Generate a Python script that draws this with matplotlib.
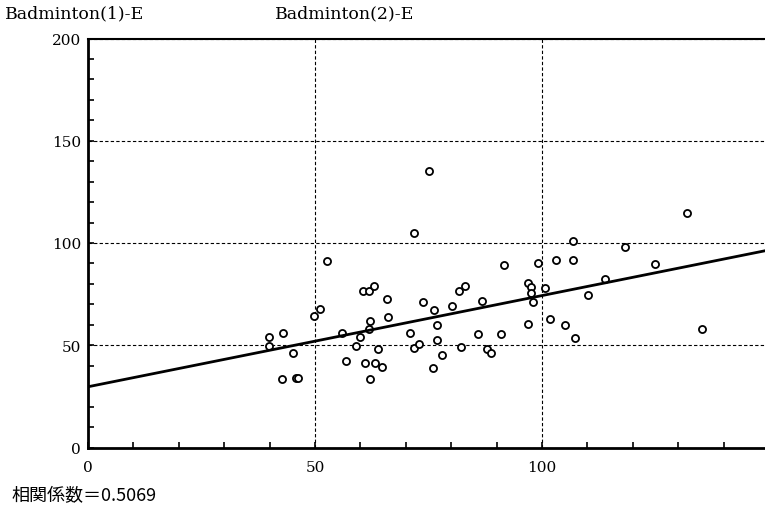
import matplotlib.pyplot as plt
from matplotlib.ticker import MultipleLocator
import numpy as np

# Badminton (2)-E on x, Badminton (1)-E on y
x_vals = [39.9, 39.8, 42.9, 42.7, 45.8, 46.2, 45.2, 49.8, 51.1, 52.7,
          55.9, 56.9, 59.1, 59.9, 60.6, 61.9, 62.9, 62.0, 61.9, 61.1,
          63.1, 62.1, 63.9, 64.8, 65.8, 66.1, 70.9, 71.8, 73.0, 71.8,
          75.1, 73.8, 76.1, 76.9, 76.9, 76.0, 78.0, 80.2, 81.8, 83.0,
          82.1, 85.9, 86.7, 87.8, 88.8, 90.9, 91.7, 96.8, 97.6, 97.6,
          97.9, 97.0, 100.7, 101.8, 105.1, 107.2, 99.1, 103.0, 106.8, 106.8,
          110.1, 113.9, 118.2, 124.9, 132.0, 135.2]
y_vals = [53.9, 49.8, 55.8, 33.4, 34.2, 33.8, 46.1, 64.1, 67.6, 91.3,
          56.2, 42.1, 49.5, 54.1, 76.3, 76.3, 79.1, 61.7, 57.8, 41.3,
          41.1, 33.3, 48.2, 39.2, 72.5, 63.7, 55.8, 48.7, 50.7, 104.7,
          135.1, 71.0, 67.1, 60.1, 52.6, 38.8, 45.1, 69.3, 76.7, 79.1,
          49.3, 55.7, 71.5, 48.1, 46.1, 55.6, 89.2, 80.3, 78.6, 75.4,
          71.1, 60.4, 78.1, 62.8, 59.8, 53.5, 90.3, 91.5, 91.7, 100.8,
          74.8, 82.3, 98.0, 89.7, 114.7, 58.1]

# regression line as drawn in the source
intercept = 29.7
slope = 0.446
r_value = 0.5069

x_max = 149.1
serif = ['DejaVu Serif']

fig = plt.figure(figsize=(7.65, 5.1), dpi=100)
ax = fig.add_axes([88 / 765, 61.5 / 510, 1 - 88 / 765, 409 / 510])

ax.scatter(x_vals, y_vals, s=26, facecolors='white', edgecolors='black',
           linewidths=1.3, zorder=3)

line_x = np.array([0, x_max])
ax.plot(line_x, intercept + slope * line_x, color='black', lw=2, zorder=4)

ax.set_xlim(0, x_max)
ax.set_ylim(0, 200)
ax.xaxis.set_major_locator(MultipleLocator(50))
ax.yaxis.set_major_locator(MultipleLocator(50))
ax.xaxis.set_minor_locator(MultipleLocator(10))
ax.yaxis.set_minor_locator(MultipleLocator(10))
ax.tick_params(which='both', direction='in', length=4, width=1.2,
               top=False, right=False)
ax.tick_params(axis='x', pad=9, labelsize=11)
ax.tick_params(axis='y', pad=5, labelsize=11)
for lab in ax.get_xticklabels() + ax.get_yticklabels():
    lab.set_family(serif)

ax.grid(which='major', color='black', lw=0.8, linestyle=(0, (3, 2)))
ax.spines['right'].set_visible(False)
ax.spines['left'].set_linewidth(2)
ax.spines['bottom'].set_linewidth(2)
ax.spines['top'].set_linewidth(1.5)

fig.text(5 / 765, 1 - 14 / 510, 'Badminton(1)-E', family=serif,
         fontsize=12.5, ha='left', va='center')
fig.text(275 / 765, 1 - 14 / 510, 'Badminton(2)-E', family=serif,
         fontsize=12.5, ha='left', va='center')
fig.text(11 / 765, 1 - 496 / 510, f'相関係数＝{r_value}',
         family=['Noto Sans CJK JP', 'DejaVu Sans'], fontsize=13,
         ha='left', va='center')

fig.savefig('out.png', dpi=100)
